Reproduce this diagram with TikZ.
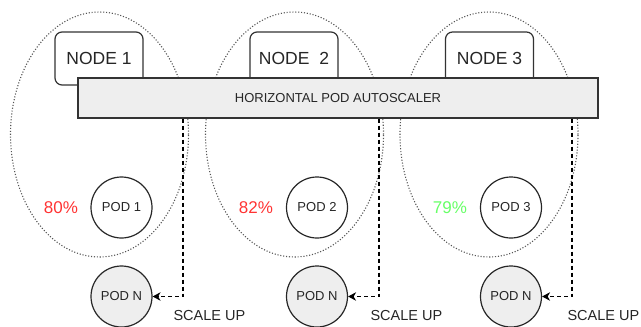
\documentclass[tikz,border=0pt]{standalone}
\usepackage{fontspec}
\setmainfont{Liberation Sans}
\usetikzlibrary{shapes.geometric,arrows.meta}
\definecolor{zonegray}{HTML}{555555}
\definecolor{edgegray}{HTML}{333333}
\definecolor{hpagray}{HTML}{EEEEEE}
\definecolor{hotred}{HTML}{FF3333}
\definecolor{okgreen}{HTML}{66FF66}
\tikzstyle{zone} = [ellipse, draw=zonegray, line width=1.1pt, dash pattern=on 1.1pt off 1.8pt,
minimum width=178pt, minimum height=245pt, inner sep=0pt]
\tikzstyle{host} = [rectangle, rounded corners=7pt, minimum width=88pt, minimum height=53pt,
draw=edgegray, line width=1.2pt, fill=white, text=black!85, font=\fontsize{17.5}{20}\selectfont]
\tikzstyle{hpa} = [rectangle, minimum width=520pt, minimum height=40pt, draw=edgegray,
line width=1.2pt, fill=hpagray, text=black!85, font=\fontsize{13}{15}\selectfont]
\tikzstyle{pod} = [circle, minimum size=61pt, inner sep=0pt, draw=black!85, line width=1.2pt,
text=black!85, font=\fontsize{13}{15}\selectfont]
\tikzstyle{newpod} = [pod, fill=hpagray]
\tikzstyle{load} = [font=\fontsize{17}{20}\selectfont]
\tikzstyle{note} = [anchor=west, text=black!85, font=\fontsize{14.5}{17}\selectfont]
\tikzstyle{arrow} = [line width=1.2pt, dash pattern=on 4pt off 3pt, ->,
>={Stealth[length=8pt,width=8.5pt,inset=2.5pt]}]

\begin{document}
\begin{tikzpicture}[x=1pt, y=-1pt, node distance=89pt]
\useasboundingbox (0,0) rectangle (641,327);
% one zone per cluster node
\node (zone1)[zone] at (99.5,134.5) {};
\node (zone2)[zone] at (294.5,134.5) {};
\node (zone3)[zone] at (489,134.5) {};

\node (node1)[host] at (99,58.5) {NODE 1};
\node (node2)[host] at (294,58.5) {NODE\ \ 2};
\node (node3)[host] at (489.5,58.5) {NODE 3};
\node (hpa)[hpa] at (338,98) {HORIZONTAL POD AUTOSCALER};

% running pods and their load
\node (pod1)[pod] at (121.5,207.5) {POD 1};
\node (pod2)[pod] at (317,207.5) {POD 2};
\node (pod3)[pod] at (511,207.5) {POD 3};
\node (load1)[load, text=hotred] at (61,208) {80\%};
\node (load2)[load, text=hotred] at (256,208) {82\%};
\node (load3)[load, text=okgreen] at (450,208) {79\%};

% new replicas
\node (podn1)[newpod, below of=pod1]{POD N};
\node (podn2)[newpod, below of=pod2]{POD N};
\node (podn3)[newpod, below of=pod3]{POD N};

\coordinate (tap1) at (183,297);
\coordinate (tap2) at (379,297);
\coordinate (tap3) at (572,297);
\draw [arrow](hpa.south -| tap1) |- (podn1);
\draw [arrow](hpa.south -| tap2) |- (podn2);
\draw [arrow](hpa.south -| tap3) |- (podn3);

\node (up1)[note] at (170,316) {SCALE UP};
\node (up2)[note] at (367,316) {SCALE UP};
\node (up3)[note] at (564,316) {SCALE UP};
\end{tikzpicture}
\end{document}
